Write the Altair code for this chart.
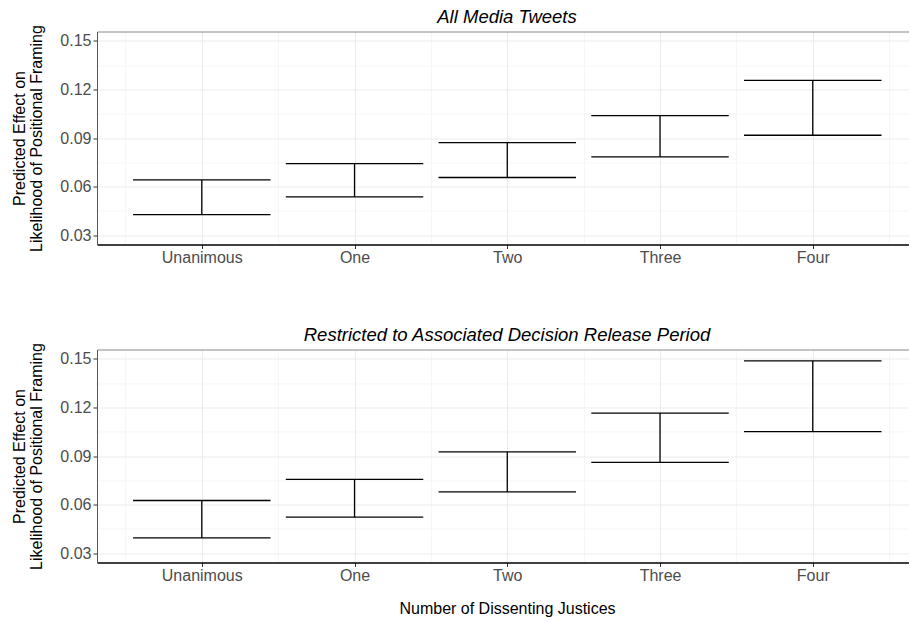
import altair as alt
import pandas as pd

# Number of dissenting justices (x categories)
categories = ["Unanimous", "One", "Two", "Three", "Four"]

# Confidence bounds, all media tweets
all_lower = [0.0427, 0.0536, 0.0656, 0.0784, 0.0917]
all_upper = [0.0641, 0.0742, 0.0871, 0.1038, 0.1256]

# Confidence bounds, restricted to decision release period
rel_lower = [0.0394, 0.0522, 0.0678, 0.0861, 0.1050]
rel_upper = [0.0625, 0.0756, 0.0925, 0.1165, 0.1488]

y_ticks = [0.03, 0.06, 0.09, 0.12, 0.15]
y_minor = [0.045, 0.075, 0.105, 0.135]
x_major = [1, 2, 3, 4, 5]
x_minor = [0.5, 1.5, 2.5, 3.5, 4.5, 5.5]

X_DOMAIN = [0.314, 5.63]
Y_DOMAIN = [0.0242, 0.1558]
CAP_HALF = 0.45
FONT = "Liberation Sans"
PLOT_W = 812

label_expr = "[''," + ",".join("'%s'" % c for c in categories) + "][datum.value]"


def panel(title, lower, upper, height, x_title):
    df = pd.DataFrame({
        "pos": list(range(1, len(categories) + 1)),
        "category": categories,
        "lower": lower,
        "upper": upper,
    })
    base = alt.Chart(df)
    xs = alt.Scale(domain=X_DOMAIN, nice=False, zero=False)
    ys = alt.Scale(domain=Y_DOMAIN, nice=False, zero=False)

    x_axis = alt.Axis(
        orient="bottom",
        values=x_major, labelExpr=label_expr, grid=True, gridColor="#EBEBEB",
        gridWidth=1, domainColor="black", domainWidth=1.4, tickColor="#333333",
        tickSize=4, labelPadding=1, title=x_title if x_title else None,
        titleX=410, titlePadding=17,
    )
    y_axis = alt.Axis(
        orient="left",
        values=y_ticks, format=".2f", grid=True, gridColor="#EBEBEB", gridWidth=1,
        domainColor="#555555", domainWidth=1, tickColor="#333333", tickSize=4,
        labelPadding=2, title=["Predicted Effect on", "Likelihood of Positional Framing"],
        titlePadding=15, titleLineHeight=17,
    )
    x_top = alt.Axis(
        orient="top", values=x_minor, grid=True, gridColor="#F0F0F0", gridWidth=0.6,
        labels=False, ticks=False, domainColor="#888888", domainWidth=1.2, title=None,
    )
    y_right = alt.Axis(
        orient="right", values=y_minor, grid=True, gridColor="#F0F0F0", gridWidth=0.6,
        labels=False, ticks=False, domain=False, title=None,
    )

    # vertical stem of each interval
    stems = base.mark_rule(color="black", strokeWidth=1.3).encode(
        x=alt.X("pos:Q", scale=xs, axis=x_axis),
        y=alt.Y("lower:Q", scale=ys, axis=y_axis),
        y2="upper:Q",
    )
    # horizontal caps at both bounds
    caps = base.transform_fold(
        ["lower", "upper"], as_=["bound", "value"]
    ).transform_calculate(
        x0=f"datum.pos - {CAP_HALF}", x1=f"datum.pos + {CAP_HALF}"
    ).mark_rule(color="black", strokeWidth=1.3).encode(
        x=alt.X("x0:Q", scale=xs, axis=x_top),
        x2="x1:Q",
        y=alt.Y("value:Q", scale=ys, axis=y_right),
    )
    return alt.layer(caps, stems).resolve_axis(
        x="independent", y="independent"
    ).properties(
        width=PLOT_W,
        height=height,
        title=alt.TitleParams(
            title, font=FONT, fontSize=18.5, fontStyle="italic", fontWeight="normal",
            color="black", anchor="middle", frame="group", dx=4, offset=-2.3,
        ),
    )


top = panel("All Media Tweets", all_lower, all_upper, 213, None)
bottom = panel("Restricted to Associated Decision Release Period", rel_lower, rel_upper,
               213, "Number of Dissenting Justices")

chart = alt.vconcat(top, bottom, spacing=60).properties(
    padding={"left": 11, "top": 7.5, "right": 0, "bottom": 0},
    background="white",
).configure_view(stroke=None).configure_axis(
    labelFont=FONT, labelFontSize=16, labelColor="#4D4D4D",
    titleFont=FONT, titleFontSize=16, titleColor="black", titleFontWeight="normal",
)

chart.save("out.html", embed_options={"renderer": "svg", "actions": False})
